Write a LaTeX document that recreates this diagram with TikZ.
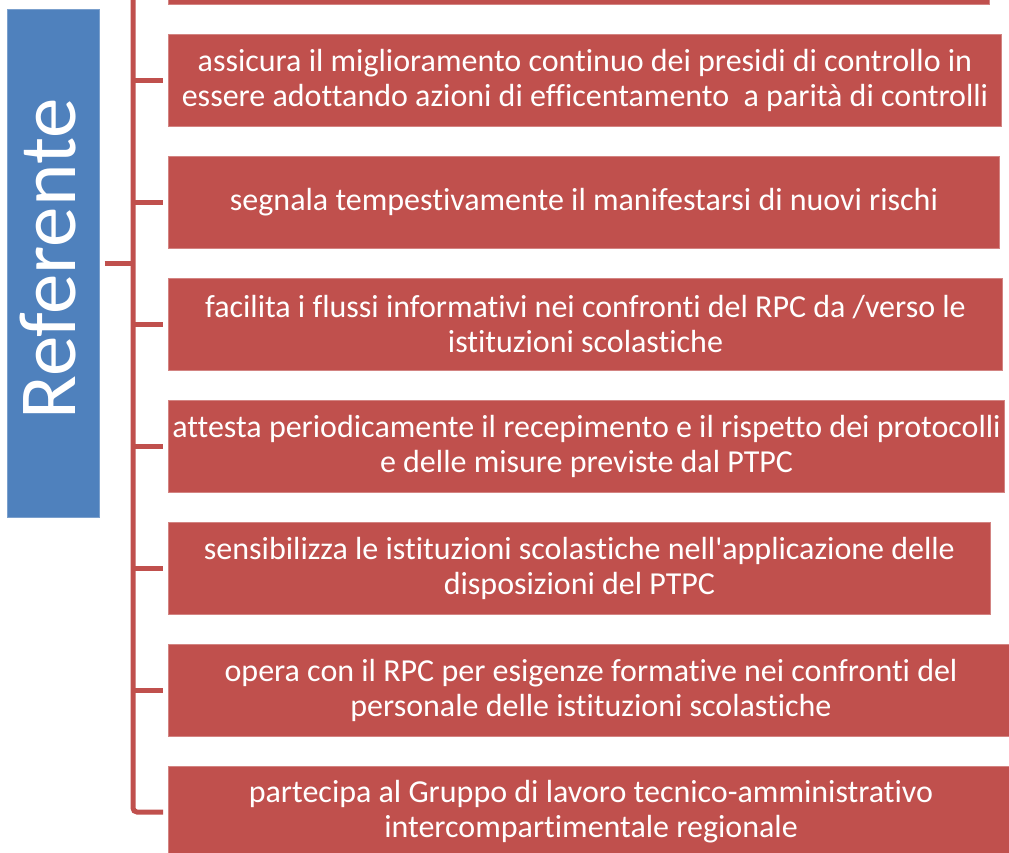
\documentclass[tikz,border=0pt]{standalone}
\usepackage{fontspec}
\newfontfamily\carl{Carlito}[Ligatures=NoCommon]
\definecolor{bred}{HTML}{C0504D}
\definecolor{bblue}{HTML}{4F81BD}
\tikzset{
  item/.style={fill=bred, draw=bred!70!white, line width=1pt, anchor=west, minimum height=92pt, inner sep=0pt,
    text=white, align=center, font=\carl\fontsize{32}{35}\selectfont},
  conn/.style={draw=bred, line width=5pt},
  refbox/.style={fill=bblue, draw=bblue!75!white, line width=1pt, minimum width=92pt, minimum height=508pt, inner sep=0pt}
}
\begin{document}
\begin{tikzpicture}[x=1pt,y=-1pt]
\useasboundingbox (0,0) rectangle (1009,852);
\clip (0,0) rectangle (1009,852);
\node[refbox] (ref) at (53,263) {};
\node[text=white, rotate=90, anchor=base, font=\carl\fontsize{81}{90}\selectfont] (reftext) at (75,259) {Referente};
\node[item, minimum width=821pt] (b1) at (168,-42) {};
\node[item, minimum width=833pt] (b2) at (168,80) {assicura il miglioramento continuo dei presidi di controllo in\\essere adottando azioni di efficentamento \ a parità di controlli};
\node[item, minimum width=831pt] (b3) at (168,202) {segnala tempestivamente il manifestarsi di nuovi rischi};
\node[item, minimum width=834pt] (b4) at (168,324) {facilita i flussi informativi nei confronti del RPC da /verso le\\istituzioni scolastiche};
\node[item, minimum width=836pt] (b5) at (168,446) {attesta periodicamente il recepimento e il rispetto dei protocolli\\e delle misure previste dal PTPC};
\node[item, minimum width=822pt] (b6) at (168,568) {sensibilizza le istituzioni scolastiche nell'applicazione delle\\disposizioni del PTPC};
\node[item, minimum width=845pt] (b7) at (168,690) {opera con il RPC per esigenze formative nei confronti del\\personale delle istituzioni scolastiche};
\node[item, minimum width=845pt] (b8) at (168,812) {partecipa al Gruppo di lavoro tecnico-amministrativo\\intercompartimentale regionale};
\coordinate (top) at (133,-60);
\draw[conn, rounded corners=4pt, shorten >=5pt] (top) |- (b8.west);
\foreach \b in {b1,b2,b3,b4,b5,b6,b7}{
  \draw[conn, shorten >=5pt] (top |- \b.west) -- (\b.west);
}
\draw[conn, shorten <=5pt] (ref.east) -- (top |- ref.east);
\end{tikzpicture}
\end{document}
